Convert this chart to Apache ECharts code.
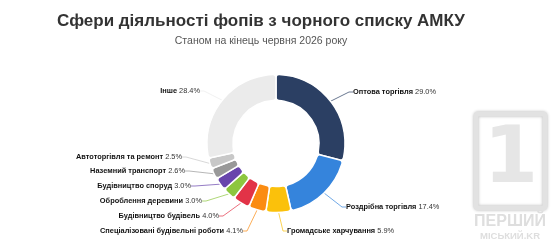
<!DOCTYPE html>
<html>
<head>
<meta charset="utf-8">
<script src="https://cdn.jsdelivr.net/npm/echarts@6/dist/echarts.min.js"></script>
<style>
html,body{margin:0;padding:0;background:#fff;}
#chart{width:552px;height:243px;}
</style>
</head>
<body>
<div id="chart"></div>
<script>
// ---- data ----
const categories = [
  'Оптова торгівля',
  'Роздрібна торгівля',
  'Громадське харчування',
  'Спеціалізовані будівельні роботи',
  'Будівництво будівель',
  'Оброблення деревини',
  'Будівництво споруд',
  'Наземний транспорт',
  'Автоторгівля та ремонт',
  'Інше'
];
const values = [29.0, 17.4, 5.9, 4.1, 4.0, 3.0, 3.0, 2.6, 2.5, 28.4];
const colors = ['#2b3f63', '#3584dc', '#fbc10b', '#fb8c12', '#e23347', '#8dc63f', '#6845ac', '#999999', '#c8c8c8', '#ebebeb'];
const titleText = 'Сфери діяльності фопів з чорного списку АМКУ';
const subtitleText = 'Станом на кінець червня 2026 року';

// ---- label placement (layout only) ----
const labelPlacement = [
  {x: 350, y: 92, align: 'left'},
  {x: 343, y: 207, align: 'left'},
  {x: 284, y: 231, align: 'left'},
  {x: 246, y: 231, align: 'right'},
  {x: 222, y: 216, align: 'right'},
  {x: 205, y: 201, align: 'right'},
  {x: 194, y: 186, align: 'right'},
  {x: 188, y: 171, align: 'right'},
  {x: 185, y: 157, align: 'right'},
  {x: 203, y: 91, align: 'right'}
];

const chart = echarts.init(document.getElementById('chart'), null, {renderer: 'canvas'});
const data = categories.map((c, i) => ({name: c, value: values[i], itemStyle: {color: colors[i]}}));
const FF = 'Liberation Sans, Arial, sans-serif';

chart.setOption({
  animation: false,
  backgroundColor: '#ffffff',
  graphic: [
    {type: 'text', x: 261, y: 21, style: {text: titleText, font: 'bold 17px "Liberation Sans", Arial, sans-serif', fill: '#333333', align: 'center', verticalAlign: 'middle'}},
    {type: 'text', x: 261, y: 41, style: {text: subtitleText, font: '10.5px "Liberation Sans", Arial, sans-serif', fill: '#555555', align: 'center', verticalAlign: 'middle'}},
    {type: 'rect', shape: {x: 476, y: 114, width: 69, height: 94, r: 2},
     style: {fill: 'none', stroke: '#e2e2e2', lineWidth: 5, shadowBlur: 3, shadowColor: 'rgba(0,0,0,0.25)'}, silent: true, z: -1},
    {type: 'text', x: 511, y: 162, style: {text: '1', font: 'bold 78px "DejaVu Sans"', fill: '#e6e6e6', align: 'center', verticalAlign: 'middle',
     shadowBlur: 3, shadowColor: 'rgba(0,0,0,0.3)'}, silent: true, z: -1},
    {type: 'text', x: 510, y: 222, style: {text: 'ПЕРШИЙ', font: 'bold 16px "Liberation Sans"', fill: '#dedede', align: 'center', verticalAlign: 'middle',
     shadowBlur: 2, shadowColor: 'rgba(0,0,0,0.2)'}, silent: true, z: -1},
    {type: 'text', x: 510, y: 236, style: {text: 'МІСЬКИЙ.KR', font: 'bold 9.5px "Liberation Sans"', fill: '#dedede', align: 'center', verticalAlign: 'middle',
     shadowBlur: 2, shadowColor: 'rgba(0,0,0,0.2)'}, silent: true, z: -1}
  ],
  series: [{
    type: 'pie',
    center: [276, 143.5],
    radius: [43, 69],
    startAngle: 90,
    clockwise: true,
    avoidLabelOverlap: false,
    itemStyle: {borderColor: '#ffffff', borderWidth: 1.5, borderRadius: 3},
    label: {
      show: true,
      position: 'outside',
      fontFamily: FF,
      fontSize: 7.4,
      padding: [0, 3],
      formatter: p => '{n|' + p.name + '} {v|' + p.value.toFixed(1) + '%}',
      rich: {
        n: {fontWeight: 'bold', fontSize: 7.4, color: '#111111', fontFamily: FF},
        v: {fontWeight: 'normal', fontSize: 7.4, color: '#333333', fontFamily: FF}
      }
    },
    labelLine: {show: true, length: 8, length2: 4, lineStyle: {width: 1, opacity: 0.7}},
    labelLayout: function (params) {
      const p = labelPlacement[params.dataIndex];
      return {x: p.x, y: p.y, align: p.align, verticalAlign: 'middle'};
    },
    emphasis: {disabled: true},
    data: data
  }]
});
</script>
</body>
</html>
